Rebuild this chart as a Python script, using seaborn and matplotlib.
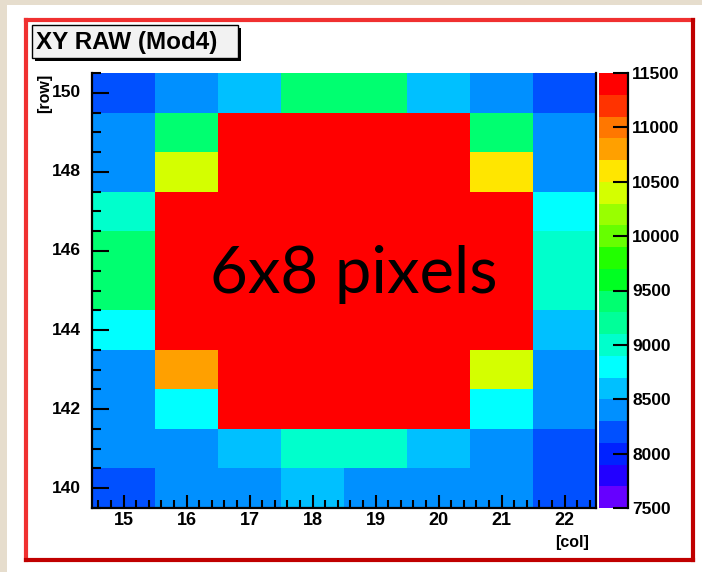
import numpy as np
import pandas as pd
import matplotlib
matplotlib.use('Agg')
import matplotlib.pyplot as plt
from matplotlib.colors import ListedColormap
from matplotlib.patches import Rectangle
from matplotlib.lines import Line2D
import seaborn as sns


# XY RAW map of module 4, cols 15-22 / rows 150-140 (top to bottom)

cols = [15, 16, 17, 18, 19, 20, 21, 22]
rows = [150, 149, 148, 147, 146, 145, 144, 143, 142, 141, 140]

HOT = 13000  # saturated pixels, above the palette max

row_150 = [8150, 8400, 8600, 9400, 9400, 8600, 8400, 8150]
row_149 = [8400, 9400, HOT, HOT, HOT, HOT, 9400, 8400]
row_148 = [8400, 10400, HOT, HOT, HOT, HOT, 10600, 8400]
row_147 = [9000, HOT, HOT, HOT, HOT, HOT, HOT, 8800]
row_146 = [9400, HOT, HOT, HOT, HOT, HOT, HOT, 9000]
row_145 = [9400, HOT, HOT, HOT, HOT, HOT, HOT, 9000]
row_144 = [8800, HOT, HOT, HOT, HOT, HOT, HOT, 8600]
row_143 = [8400, 10800, HOT, HOT, HOT, HOT, 10400, 8400]
row_142 = [8400, 8800, HOT, HOT, HOT, HOT, 8800, 8400]
row_141 = [8400, 8400, 8600, 9000, 9000, 8600, 8400, 8150]
row_140 = [8150, 8400, 8400, 8600, 8400, 8400, 8400, 8150]

zmin, zmax = 7500, 11500
cbar_ticks = [7500, 8000, 8500, 9000, 9500, 10000, 10500, 11000, 11500]

# ROOT style palette, 20 contours, low -> high
palette = ['#6600ff', '#2200ff', '#0022ff', '#0050ff', '#0090ff',
           '#00c0ff', '#00ffff', '#00ffcc', '#00ff99', '#00ff70',
           '#00ff22', '#22ff00', '#66ff00', '#99ff00', '#d4ff00',
           '#ffe600', '#ffa000', '#ff7700', '#ff3300', '#ff0000']

W, H = 702, 572


def fx(x):
    return x / W


def fy(y):
    return 1 - y / H


def main():
    data = pd.DataFrame([row_150, row_149, row_148, row_147, row_146, row_145,
                         row_144, row_143, row_142, row_141, row_140],
                        index=rows, columns=cols)

    plt.rcParams['font.family'] = ['Liberation Sans', 'DejaVu Sans']

    fig = plt.figure(figsize=(W / 100, H / 100), dpi=100)
    fig.patch.set_facecolor('#e6ddcd')

    # white canvas + red frame
    fig.add_artist(Rectangle((fx(7), fy(572)), fx(702) - fx(7), fy(5) - fy(572),
                             transform=fig.transFigure, facecolor='white',
                             edgecolor='none', zorder=0))
    lw = 3.0
    fig.add_artist(Line2D([fx(26), fx(26)], [fy(20), fy(560)], color='#f03030', lw=lw))
    fig.add_artist(Line2D([fx(26), fx(693)], [fy(20), fy(20)], color='#f03030', lw=lw))
    fig.add_artist(Line2D([fx(693), fx(693)], [fy(20), fy(560)], color='#c00000', lw=lw))
    fig.add_artist(Line2D([fx(26), fx(693)], [fy(560), fy(560)], color='#c00000', lw=lw))

    ax = fig.add_axes([fx(92), fy(508), fx(596) - fx(92), fy(73) - fy(508)])
    cax = fig.add_axes([fx(599), fy(508), fx(628) - fx(599), fy(73) - fy(508)])

    cmap = ListedColormap(palette)
    cmap.set_over('#ff0000')
    cmap.set_under('#6600ff')

    sns.heatmap(data, ax=ax, cbar_ax=cax, cmap=cmap, vmin=zmin, vmax=zmax,
                linewidths=0, cbar_kws={'ticks': cbar_ticks})

    ax.set_xlabel('')
    ax.set_ylabel('')

    # x: majors at each col, minors every 0.2
    ax.set_xticks([i + 0.5 for i in range(len(cols))], labels=[str(c) for c in cols])
    ax.set_xticks(np.arange(0.1, len(cols), 0.2), minor=True)
    # y: majors every 2 rows, minors every 0.5
    ymaj = [r for r in rows if r % 2 == 0]
    ax.set_yticks([150.5 - r for r in ymaj], labels=[str(r) for r in ymaj])
    ax.set_yticks(np.arange(0, len(rows) + 0.01, 0.5), minor=True)

    ax.tick_params(axis='x', which='major', direction='in', length=9.5, width=1.5,
                   pad=3, labelsize=13, rotation=0)
    ax.tick_params(axis='x', which='minor', direction='in', length=5.5, width=1.5)
    ax.tick_params(axis='y', which='major', direction='in', length=12, width=1.5,
                   pad=8, labelsize=12.5, rotation=0)
    ax.tick_params(axis='y', which='minor', direction='in', length=6.5, width=1.5)
    for lab in ax.get_xticklabels() + ax.get_yticklabels():
        lab.set_fontweight('bold')

    for side in ('left', 'bottom', 'right'):
        ax.spines[side].set_visible(True)
        ax.spines[side].set_color('black')
        ax.spines[side].set_linewidth(1.6)
    ax.spines['top'].set_visible(False)

    # colour bar
    cbar = ax.collections[0].colorbar
    cbar.outline.set_visible(False)
    cax.tick_params(direction='in', length=11, width=1.5, pad=3, labelsize=12.5,
                    right=True, left=False)
    for lab in cax.get_yticklabels():
        lab.set_fontweight('bold')
    cax.plot([1, 1], [0, 1], transform=cax.transAxes, color='black', lw=1.6,
             clip_on=False)

    # axis titles
    fig.text(fx(45), fy(93), '[row]', rotation=90, ha='center', va='center',
             fontsize=11.5, fontweight='bold')
    fig.text(fx(572), fy(542), '[col]', ha='center', va='center',
             fontsize=11.5, fontweight='bold')

    # title box with shadow
    fig.add_artist(Rectangle((fx(35), fy(61)), fx(241) - fx(35), fy(28) - fy(61),
                             transform=fig.transFigure, facecolor='black',
                             edgecolor='none', zorder=5))
    fig.add_artist(Rectangle((fx(32), fy(58)), fx(238) - fx(32), fy(25) - fy(58),
                             transform=fig.transFigure, facecolor='#f2f2f2',
                             edgecolor='black', lw=1, zorder=6))
    fig.text(fx(36), fy(42), 'XY RAW (Mod4)', ha='left', va='center',
             fontsize=17.5, fontweight='bold', zorder=7)

    # annotation
    fig.text(fx(354), fy(293), '6x8 pixels', ha='center', va='baseline',
             fontsize=47, family=['Lato', 'DejaVu Sans'], color='black')

    fig.savefig('out.png', dpi=100, facecolor=fig.get_facecolor())


if __name__ == "__main__":
    main()
